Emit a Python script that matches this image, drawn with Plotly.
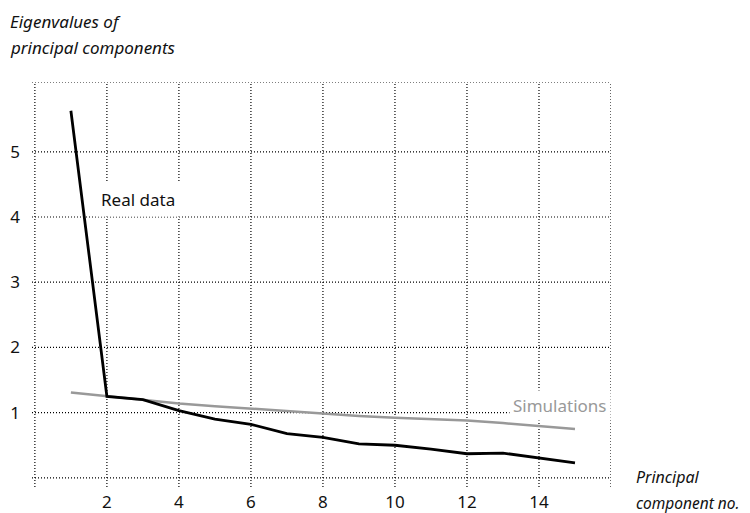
import plotly.graph_objects as go

components = list(range(1, 16))
real_data = [5.63, 1.25, 1.20, 1.03, 0.90, 0.82, 0.68, 0.62, 0.52, 0.50, 0.44, 0.37, 0.38, 0.30, 0.23]
simulations = [1.31, 1.25, 1.20, 1.14, 1.10, 1.06, 1.02, 0.98, 0.95, 0.92, 0.90, 0.88, 0.84, 0.79, 0.75]
x_ticks = [2, 4, 6, 8, 10, 12, 14]
y_ticks = [1, 2, 3, 4, 5]
x_grid = [0, 2, 4, 6, 8, 10, 12, 14, 16]
y_grid = [0, 1, 2, 3, 4, 5]

X_MIN, X_MAX = -0.08, 16
Y_MIN, Y_MAX = -0.14, 6.07

FONT = "Noto Sans"
TXT = "#111111"
GREY = "#999999"

# page has an 8px body margin; compensate
OFF = 8

fig = go.Figure()
fig.add_trace(go.Scatter(x=components, y=simulations, mode="lines",
                         line=dict(color=GREY, width=2.5), hoverinfo="skip"))
fig.add_trace(go.Scatter(x=components, y=real_data, mode="lines",
                         line=dict(color="black", width=2.8), hoverinfo="skip"))

grid_line = dict(color="black", width=1.2, dash="1px,2px")
shapes = []
for gx in x_grid:
    shapes.append(dict(type="line", xref="x", yref="y", x0=gx, x1=gx, y0=Y_MIN, y1=Y_MAX,
                       line=grid_line, layer="below"))
for gy in y_grid + [Y_MAX]:
    shapes.append(dict(type="line", xref="x", yref="y", x0=X_MIN, x1=X_MAX, y0=gy, y1=gy,
                       line=grid_line, layer="below"))

annotations = [
    dict(text="Real data", x=2.87, y=4.27, xref="x", yref="y", showarrow=False,
         font=dict(family=FONT, size=17, color=TXT), bgcolor="white", borderpad=5),
    dict(text="Simulations", x=16, y=1.11, xref="x", yref="y", xanchor="right", showarrow=False,
         font=dict(family=FONT, size=17, color=GREY), bgcolor="white", borderpad=3),
    dict(text="<i>Eigenvalues of</i>", x=10, y=21, showarrow=False,
         xanchor="left", yanchor="middle", font=dict(family=FONT, size=17, color=TXT)),
    dict(text="<i>principal components</i>", x=10, y=47, showarrow=False,
         xanchor="left", yanchor="middle", font=dict(family=FONT, size=17, color=TXT)),
    dict(text="<i>Principal</i>", x=636, y=477, showarrow=False,
         xanchor="left", yanchor="middle", font=dict(family=FONT, size=16, color=TXT)),
    dict(text="<i>component no.</i>", x=636, y=503, showarrow=False,
         xanchor="left", yanchor="middle", font=dict(family=FONT, size=15.5, color=TXT)),
]

W, H = 750 - OFF, 513 - OFF
L, T = 32 - OFF, 82 - OFF
R = W - (611 - OFF)
B = H - (487.4 - OFF)
pw, ph = W - L - R, H - T - B
for a in annotations[2:]:
    px, py = a["x"] - OFF - 2, a["y"] - OFF
    a["x"] = (px - L) / pw
    a["y"] = (H - B - py) / ph
    a["xref"] = "paper"
    a["yref"] = "paper"

fig.update_layout(
    width=W, height=H,
    margin=dict(l=L, r=R, t=T, b=B, pad=0, autoexpand=False),
    paper_bgcolor="white", plot_bgcolor="white",
    showlegend=False,
    shapes=shapes,
    annotations=annotations,
    xaxis=dict(range=[X_MIN, X_MAX], tickvals=x_ticks, ticktext=[str(v) for v in x_ticks],
               showgrid=False, zeroline=False, showline=False, ticks="",
               ticklabelstandoff=3, automargin=False,
               tickfont=dict(family=FONT, size=17, color=TXT), fixedrange=True),
    yaxis=dict(range=[Y_MIN, Y_MAX], tickvals=y_ticks, ticktext=[str(v) for v in y_ticks],
               showgrid=False, zeroline=False, showline=False, ticks="",
               ticklabelstandoff=11, automargin=False,
               tickfont=dict(family=FONT, size=17, color=TXT), fixedrange=True),
)

fig.write_html("out.html")
